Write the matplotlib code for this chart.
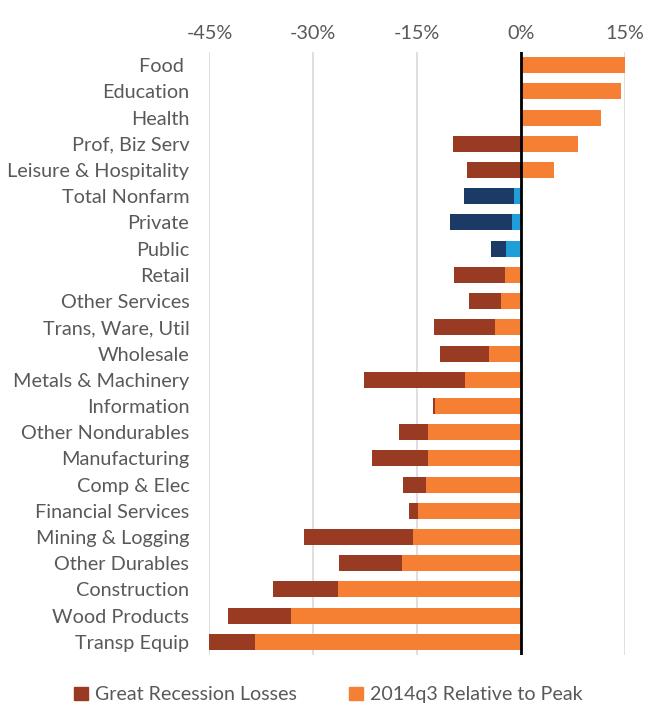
import matplotlib
matplotlib.use("Agg")
import matplotlib.pyplot as plt
from matplotlib.patches import Patch
from matplotlib.ticker import FuncFormatter, MultipleLocator

plt.rcParams['font.family'] = ['Lato', 'DejaVu Sans']

# employment by sector, % change
sectors = ['Food ', 'Education', 'Health', 'Prof, Biz Serv', 'Leisure & Hospitality',
           'Total Nonfarm', 'Private', 'Public', 'Retail', 'Other Services',
           'Trans, Ware, Util', 'Wholesale', 'Metals & Machinery', 'Information',
           'Other Nondurables', 'Manufacturing', 'Comp & Elec', 'Financial Services',
           'Mining & Logging', 'Other Durables', 'Construction', 'Wood Products',
           'Transp Equip']
recession_losses = [0, 0, 0, -9.9, -7.8, -8.3, -10.2, -4.3, -9.7, -7.5,
                    -12.6, -11.7, -22.7, -12.7, -17.6, -21.6, -17.0, -16.2,
                    -31.4, -26.3, -35.8, -42.3, -45.0]
relative_to_peak = [15.1, 14.4, 11.5, 8.2, 4.8, -1.1, -1.3, -2.2, -2.4, -2.9,
                    -3.8, -4.6, -8.1, -12.4, -13.5, -13.5, -13.7, -14.9,
                    -15.6, -17.2, -26.5, -33.2, -38.5]
aggregates = ['Total Nonfarm', 'Private', 'Public']

brown, orange = '#983b22', '#f58033'
navy, sky = '#1b3a66', '#1f9fda'
grey = '#595959'

loss_colors = [navy if s in aggregates else brown for s in sectors]
peak_colors = [sky if s in aggregates else orange for s in sectors]

fig = plt.figure(figsize=(6.45, 7.04), dpi=100)
ax = fig.add_axes([0.3248, 0.0696, 0.6442, 0.8565])

y = range(len(sectors))
ax.barh(y, recession_losses, height=0.61, color=loss_colors, zorder=2)
ax.barh(y, relative_to_peak, height=0.61, color=peak_colors, zorder=3)

ax.set_xlim(-45, 15)
ax.set_ylim(len(sectors) - 0.5, -0.5)
ax.xaxis.set_major_locator(MultipleLocator(15))
ax.xaxis.set_major_formatter(FuncFormatter(lambda v, p: f'{v:.0f}%'))
ax.xaxis.tick_top()
ax.grid(axis='x', color='#d9d9d9', linewidth=1.2, zorder=0)
ax.axvline(0, color='black', linewidth=2, zorder=4)

ax.set_yticks(list(y))
ax.set_yticklabels(sectors)
ax.tick_params(axis='both', length=0, labelsize=14.3, labelcolor=grey)
ax.tick_params(axis='x', pad=7)
ax.tick_params(axis='y', pad=14.5)
for s in ax.spines.values():
    s.set_visible(False)

handles = [Patch(color=brown, label='Great Recession Losses'),
           Patch(color=orange, label='2014q3 Relative to Peak')]
fig.legend(handles=handles, loc='lower center', bbox_to_anchor=(0.509, -0.024), ncol=2,
           frameon=False, fontsize=14.1, labelcolor=grey, handlelength=0.7,
           handleheight=0.7, handletextpad=0.35, columnspacing=2.7)

fig.savefig('out.png', dpi=100)
